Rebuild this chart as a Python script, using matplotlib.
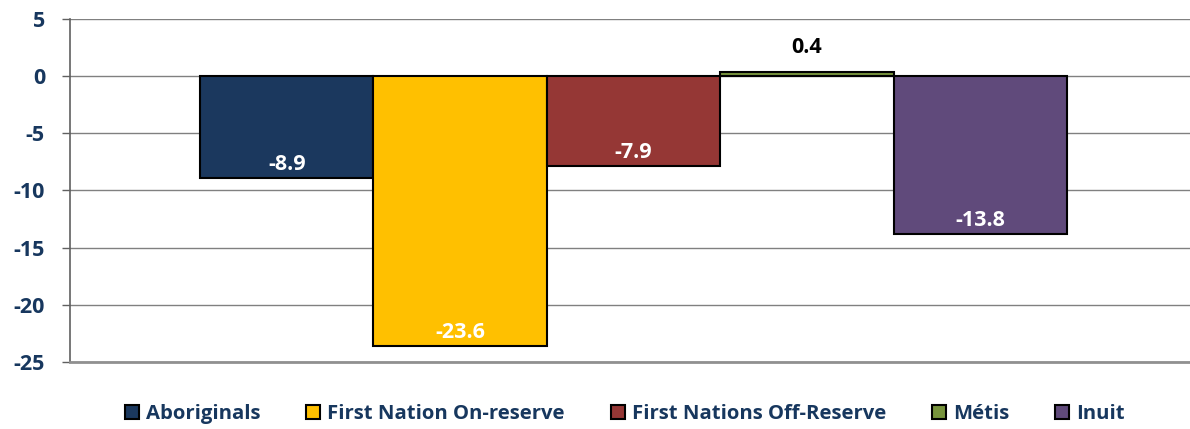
import matplotlib.pyplot as plt
import numpy as np

groups = ["Aboriginals", "First Nation On-reserve", "First Nations Off-Reserve", "Métis", "Inuit"]
values = [-8.9, -23.6, -7.9, 0.4, -13.8]
colors = ["#1B385E", "#FFC000", "#953735", "#77933C", "#604A7B"]
yticks = [5, 0, -5, -10, -15, -20, -25]

navy = "#17375E"
plt.rcParams["font.family"] = ["Open Sans", "DejaVu Sans"]
plt.rcParams["font.weight"] = "bold"

fig = plt.figure(figsize=(11.9, 4.29), dpi=100)
ax = fig.add_axes([70 / 1190, 67 / 429, 1127 / 1190, 343 / 429])

x = np.arange(len(groups)) - 2
bars = ax.bar(x, values, width=1.0, color=colors, edgecolor="black", linewidth=1.5,
              label=groups, zorder=3)

# labels: white inside the bar bottom for negatives, black above for positives
for xi, v in zip(x, values):
    if v < 0:
        ax.text(xi, v + 0.7, f"{v:.1f}", ha="center", va="baseline", color="white",
                fontsize=15.5, fontweight="bold", zorder=4)
    else:
        ax.text(xi, 2.0, f"{v:.1f}", ha="center", va="baseline", color="black",
                fontsize=15.5, fontweight="bold", zorder=4)

ax.set_xlim(-3.25, 3.25)
ax.set_ylim(-25, 5)
ax.set_yticks(yticks)
ax.set_yticklabels([str(t) for t in yticks], color=navy, fontsize=15.5, fontweight="bold")
ax.set_xticks([])
ax.yaxis.grid(True, color="#808080", linewidth=1.0, zorder=0)
ax.tick_params(axis="y", length=6, width=1.0, color="#606060", pad=12)
for s in ["top", "right"]:
    ax.spines[s].set_visible(False)
ax.spines["left"].set_color("#606060")
ax.spines["left"].set_linewidth(1.2)
ax.spines["bottom"].set_color("#909090")
ax.spines["bottom"].set_linewidth(2.0)

leg = fig.legend(handles=bars, labels=groups, loc="center", bbox_to_anchor=(0.525, 0.035),
                 ncol=5, frameon=False, fontsize=14.6, handlelength=0.7, handleheight=0.7,
                 handletextpad=0.35, columnspacing=2.25)
for t in leg.get_texts():
    t.set_color(navy)
    t.set_fontweight("bold")

fig.savefig("out.png", dpi=100)
